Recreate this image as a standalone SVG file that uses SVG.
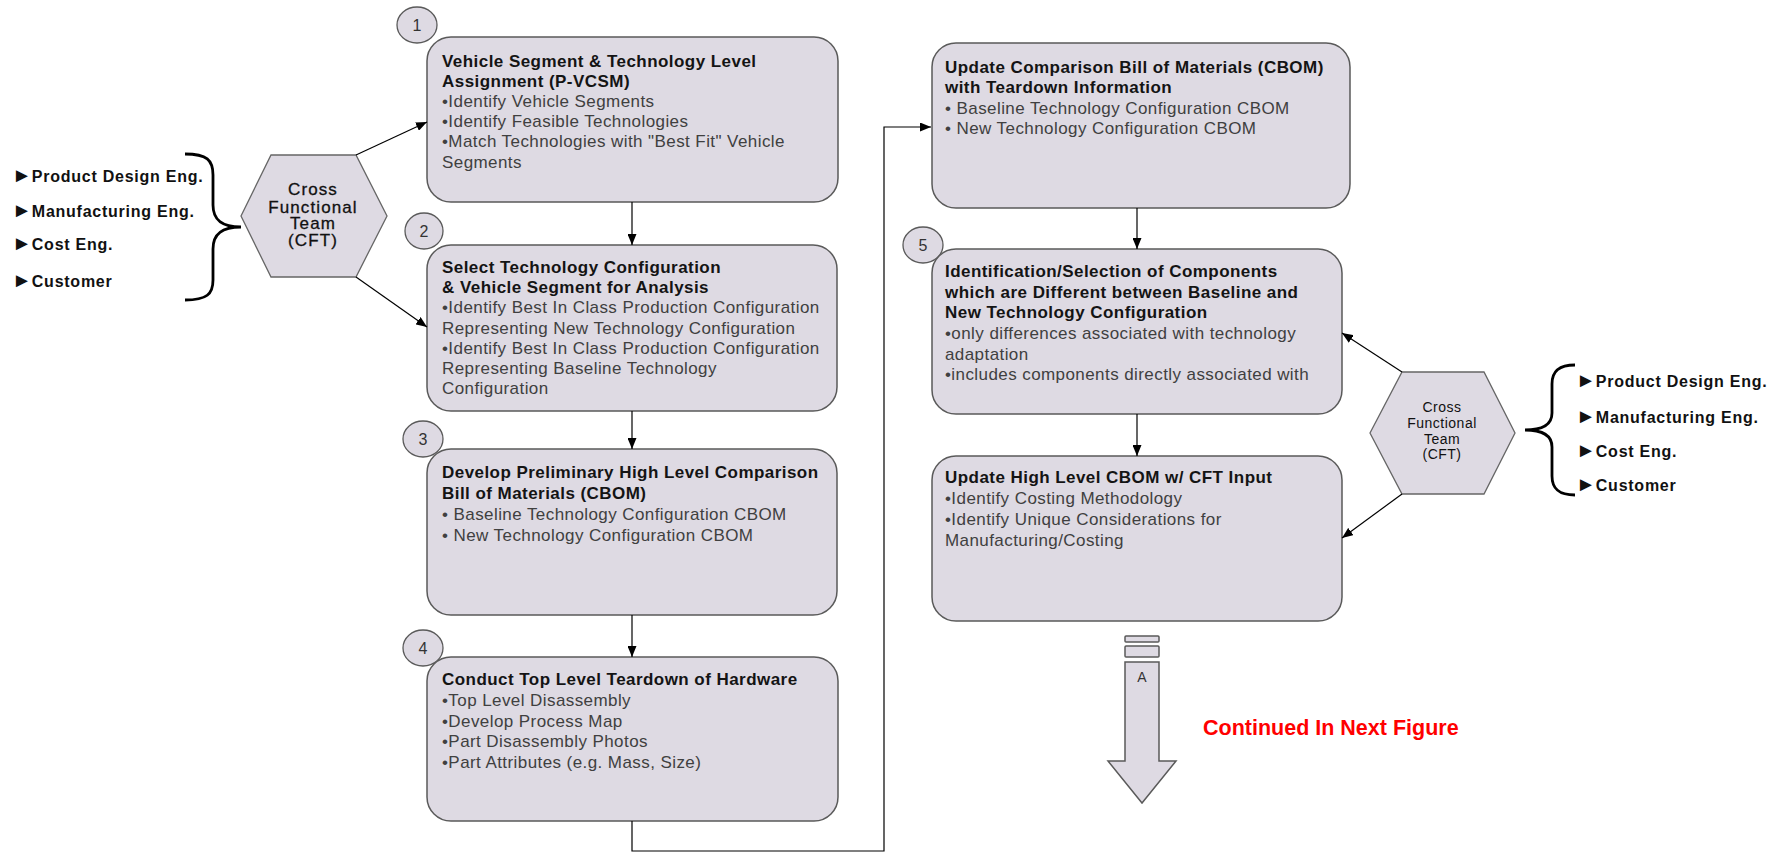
<svg xmlns="http://www.w3.org/2000/svg" width="1783" height="852" viewBox="0 0 1783 852">
  <defs>
    <marker id="arr" markerUnits="userSpaceOnUse" markerWidth="11" markerHeight="9" refX="11" refY="4.5" orient="auto">
      <path d="M0,0 L11,4.5 L0,9 z" fill="#000"/>
    </marker>
    <style>
      .box { fill: #dedae3; stroke: #5a5a5a; stroke-width: 1.5; }
      .num { fill: #dedae3; stroke: #5a5a5a; stroke-width: 1.3; }
      .numt { font-family: "Liberation Sans", Arial, sans-serif; font-size: 16px; fill: #333; text-anchor: middle; }
      .hex { fill: #dedae3; stroke: #666; stroke-width: 1.3; }
      .title { font-family: "Liberation Sans", Arial, sans-serif; font-size: 17px; font-weight: bold; fill: #141414; letter-spacing: 0.45px; }
      .bul { font-family: "Liberation Sans", Arial, sans-serif; font-size: 17px; fill: #404040; letter-spacing: 0.42px; }
      .hexL { font-family: "Liberation Sans", Arial, sans-serif; font-size: 17px; fill: #111; stroke: #111; stroke-width: 0.3; text-anchor: middle; letter-spacing: 1.1px; }
      .hexR { font-family: "Liberation Sans", Arial, sans-serif; font-size: 14px; fill: #111; text-anchor: middle; letter-spacing: 0.5px; }
      .item { font-family: "Liberation Sans", Arial, sans-serif; font-size: 16px; font-weight: bold; fill: #111; letter-spacing: 0.75px; }
      .tri { font-size: 20px; letter-spacing: 0; }
      .brace { fill: none; stroke: #000; stroke-width: 2.8; }
      .conn { fill: none; stroke: #000; stroke-width: 1.2; }
      .red { font-family: "Liberation Sans", Arial, sans-serif; font-size: 21.5px; font-weight: bold; fill: #ff0000; }
    </style>
  </defs>

  <!-- Left cross functional team -->
  <g id="team-left">
    <text class="item" x="12" y="182"><tspan class="tri">►</tspan>Product Design Eng.</text>
    <text class="item" x="12" y="217"><tspan class="tri">►</tspan>Manufacturing Eng.</text>
    <text class="item" x="12" y="250"><tspan class="tri">►</tspan>Cost Eng.</text>
    <text class="item" x="12" y="287"><tspan class="tri">►</tspan>Customer</text>
    <path class="brace" d="M185,154 C207,154 213,160 213,175 L213,205 C213,220 222,227 241,227 C222,227 213,234 213,249 L213,280 C213,294 207,300 185,300"/>
    <polygon class="hex" points="241,216 271,155 356,155 387,216 356,277 271,277"/>
    <text class="hexL" x="313" y="195">Cross</text>
    <text class="hexL" x="313" y="213">Functional</text>
    <text class="hexL" x="313" y="229">Team</text>
    <text class="hexL" x="313" y="246">(CFT)</text>
  </g>

  <!-- Step 1 -->
  <g id="step1">
    <ellipse class="num" cx="417" cy="25" rx="20" ry="18"/>
    <text class="numt" x="417" y="31">1</text>
    <rect class="box" x="427" y="37" width="411" height="165" rx="24"/>
    <text class="title" x="442" y="66.5">Vehicle Segment &amp; Technology Level</text>
    <text class="title" x="442" y="86.7">Assignment (P-VCSM)</text>
    <text class="bul" x="442" y="106.9">•Identify Vehicle Segments</text>
    <text class="bul" x="442" y="127.1">•Identify Feasible Technologies</text>
    <text class="bul" x="442" y="147.3">•Match Technologies with "Best Fit" Vehicle</text>
    <text class="bul" x="442" y="167.5">Segments</text>
  </g>

  <!-- Step 2 -->
  <g id="step2">
    <ellipse class="num" cx="424" cy="231" rx="19" ry="18"/>
    <text class="numt" x="424" y="237">2</text>
    <rect class="box" x="427" y="245" width="410" height="166" rx="24"/>
    <text class="title" x="442" y="273">Select Technology Configuration</text>
    <text class="title" x="442" y="293.2">&amp; Vehicle Segment for Analysis</text>
    <text class="bul" x="442" y="313.4">•Identify Best In Class Production Configuration</text>
    <text class="bul" x="442" y="333.6">Representing New Technology Configuration</text>
    <text class="bul" x="442" y="353.8">•Identify Best In Class Production Configuration</text>
    <text class="bul" x="442" y="374">Representing Baseline Technology</text>
    <text class="bul" x="442" y="394.2">Configuration</text>
  </g>

  <!-- Step 3 -->
  <g id="step3">
    <ellipse class="num" cx="423" cy="439" rx="20" ry="18"/>
    <text class="numt" x="423" y="445">3</text>
    <rect class="box" x="427" y="449" width="410" height="166" rx="24"/>
    <text class="title" x="442" y="478">Develop Preliminary High Level Comparison</text>
    <text class="title" x="442" y="498.5">Bill of Materials (CBOM)</text>
    <text class="bul" x="442" y="519.5">• Baseline Technology Configuration CBOM</text>
    <text class="bul" x="442" y="540.5">• New Technology Configuration CBOM</text>
  </g>

  <!-- Step 4 -->
  <g id="step4">
    <ellipse class="num" cx="423" cy="648" rx="20" ry="18"/>
    <text class="numt" x="423" y="654">4</text>
    <rect class="box" x="427" y="657" width="411" height="164" rx="24"/>
    <text class="title" x="442" y="685">Conduct Top Level Teardown of Hardware</text>
    <text class="bul" x="442" y="706">•Top Level Disassembly</text>
    <text class="bul" x="442" y="726.5">•Develop Process Map</text>
    <text class="bul" x="442" y="747">•Part Disassembly Photos</text>
    <text class="bul" x="442" y="768">•Part Attributes (e.g. Mass, Size)</text>
  </g>

  <!-- Update CBOM with teardown information -->
  <g id="update-cbom">
    <rect class="box" x="932" y="43" width="418" height="165" rx="24"/>
    <text class="title" x="945" y="73">Update Comparison Bill of Materials (CBOM)</text>
    <text class="title" x="945" y="93">with Teardown Information</text>
    <text class="bul" x="945" y="113.5">• Baseline Technology Configuration CBOM</text>
    <text class="bul" x="945" y="133.5">• New Technology Configuration CBOM</text>
  </g>

  <!-- Step 5 -->
  <g id="step5">
    <ellipse class="num" cx="923" cy="245" rx="20" ry="18"/>
    <text class="numt" x="923" y="251">5</text>
    <rect class="box" x="932" y="249" width="410" height="165" rx="24"/>
    <text class="title" x="945" y="277">Identification/Selection of Components</text>
    <text class="title" x="945" y="297.5">which are Different between Baseline and</text>
    <text class="title" x="945" y="318">New Technology Configuration</text>
    <text class="bul" x="945" y="339">•only differences associated with technology</text>
    <text class="bul" x="945" y="359.5">adaptation</text>
    <text class="bul" x="945" y="380">•includes components directly associated with</text>
  </g>

  <!-- High level CBOM update -->
  <g id="update-high-level">
    <rect class="box" x="932" y="456" width="410" height="165" rx="24"/>
    <text class="title" x="945" y="483">Update High Level CBOM w/ CFT Input</text>
    <text class="bul" x="945" y="503.5">•Identify Costing Methodology</text>
    <text class="bul" x="945" y="524.5">•Identify Unique Considerations for</text>
    <text class="bul" x="945" y="545.5">Manufacturing/Costing</text>
  </g>

  <!-- Right cross functional team -->
  <g id="team-right">
    <polygon class="hex" points="1370,433 1402,372 1484,372 1515,433 1484,494 1402,494"/>
    <text class="hexR" x="1442" y="412">Cross</text>
    <text class="hexR" x="1442" y="428">Functional</text>
    <text class="hexR" x="1442" y="443.5">Team</text>
    <text class="hexR" x="1442" y="459">(CFT)</text>
    <path class="brace" d="M1575,365 C1559,365 1552,371 1552,384 L1552,413 C1552,424 1544,430 1525,430 C1544,430 1552,436 1552,447 L1552,476 C1552,489 1559,495 1575,495"/>
    <text class="item" x="1576" y="387"><tspan class="tri">►</tspan>Product Design Eng.</text>
    <text class="item" x="1576" y="423"><tspan class="tri">►</tspan>Manufacturing Eng.</text>
    <text class="item" x="1576" y="457"><tspan class="tri">►</tspan>Cost Eng.</text>
    <text class="item" x="1576" y="491"><tspan class="tri">►</tspan>Customer</text>
  </g>

  <!-- Off-page connector A -->
  <g id="continue-a">
    <rect class="box" x="1125" y="636" width="34" height="6" rx="1" stroke-width="1.3"/>
    <rect class="box" x="1125" y="646" width="34" height="11" rx="1" stroke-width="1.3"/>
    <path class="box" stroke-width="1.3" d="M1125,662 L1159,662 L1159,761 L1176,761 L1142,803 L1108,761 L1125,761 z"/>
    <text x="1142" y="682" font-family="Liberation Sans, Arial, sans-serif" font-size="14" fill="#333" text-anchor="middle">A</text>
    <text class="red" x="1203" y="735">Continued In Next Figure</text>
  </g>

  <!-- Connectors -->
  <g id="connectors">
    <line class="conn" x1="356" y1="155" x2="427" y2="122" marker-end="url(#arr)"/>
    <line class="conn" x1="356" y1="277" x2="427" y2="327" marker-end="url(#arr)"/>
    <line class="conn" x1="632" y1="202" x2="632" y2="245" marker-end="url(#arr)"/>
    <line class="conn" x1="632" y1="411" x2="632" y2="449" marker-end="url(#arr)"/>
    <line class="conn" x1="632" y1="615" x2="632" y2="657" marker-end="url(#arr)"/>
    <polyline class="conn" points="632,821 632,851 884,851 884,127 931,127" marker-end="url(#arr)"/>
    <line class="conn" x1="1137" y1="208" x2="1137" y2="249" marker-end="url(#arr)"/>
    <line class="conn" x1="1137" y1="414" x2="1137" y2="456" marker-end="url(#arr)"/>
    <line class="conn" x1="1402" y1="372" x2="1342" y2="333" marker-end="url(#arr)"/>
    <line class="conn" x1="1402" y1="494" x2="1342" y2="538" marker-end="url(#arr)"/>
  </g>
</svg>
